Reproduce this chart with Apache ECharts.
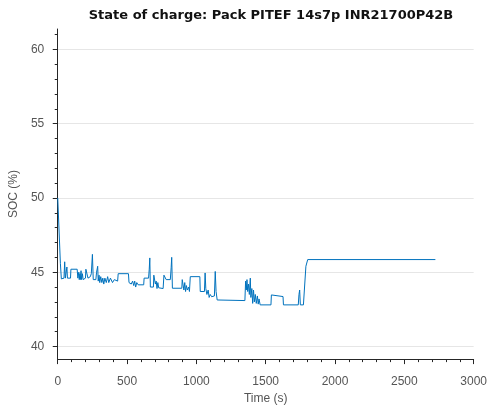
<!DOCTYPE html>
<html>
<head>
<meta charset="utf-8">
<script src="https://cdn.jsdelivr.net/npm/echarts@6/dist/echarts.min.js"></script>
<style>
  html, body { margin: 0; padding: 0; background: #fff; }
  #chart { width: 490px; height: 410px; }
</style>
</head>
<body>
<div id="chart"></div>
<script>
// Pack SOC trace
const timeS = [
  0, 14, 19, 26, 45, 50, 55, 62, 66, 70, 92, 95, 140, 145, 152, 155, 160, 163, 168, 172,
  178, 183, 200, 203, 215, 218, 235, 242, 250, 256, 275, 280, 288, 292, 298, 303, 310, 318, 325, 332,
  340, 350, 360, 368, 380, 395, 408, 420, 432, 436, 510, 514, 530, 540, 548, 555, 562, 570, 580, 620,
  623, 655, 660, 664, 668, 690, 693, 700, 704, 710, 716, 722, 728, 760, 766, 778, 782, 812, 818, 822,
  827, 895, 898, 905, 910, 916, 922, 928, 935, 944, 950, 956, 1025, 1028, 1058, 1063, 1068, 1076, 1085, 1092,
  1100, 1110, 1130, 1136, 1142, 1150, 1160, 1350, 1355, 1360, 1365, 1370, 1376, 1382, 1389, 1393, 1400, 1406, 1412, 1418,
  1425, 1432, 1440, 1446, 1452, 1460, 1538, 1541, 1625, 1628, 1735, 1740, 1745, 1750, 1772, 1790, 1803, 2724
];
const socPct = [
  50, 50, 45.6, 44.55, 44.6, 45.7, 44.6, 44.55, 45.35, 44.6, 44.6, 45.2, 45.2, 44.6, 45.0, 44.5, 44.9, 44.5, 45.1, 44.5,
  44.9, 44.5, 44.6, 45.2, 45.2, 44.6, 44.7, 44.9, 46.2, 44.5, 44.5, 45.0, 45.4, 44.4, 44.8, 44.3, 44.7, 44.3, 44.6, 44.2,
  44.6, 44.3, 44.7, 44.3, 44.6, 44.3, 44.5, 44.4, 44.4, 44.9, 44.9, 44.3, 44.2, 44.4, 44.1, 44.4, 44.0, 44.3, 44.15, 44.15,
  44.6, 44.6, 45.2, 45.96, 44.0, 44.0, 44.8, 44.8, 44.2, 44.4, 43.9, 44.3, 43.95, 43.9, 44.8, 44.8, 44.5, 44.5, 45.3, 46.0,
  43.92, 43.92, 44.5, 44.5, 43.8, 44.3, 43.7, 44.1, 43.8, 44.0, 43.7, 44.7, 44.7, 43.7, 43.7, 44.95, 43.9, 43.5, 43.8, 43.3,
  43.5, 43.35, 43.4, 45.05, 43.7, 43.13, 43.09, 43.09, 44.4, 43.8, 44.5, 43.7, 44.2, 43.5, 44.6, 43.3, 43.9, 42.9, 43.8, 43.0,
  43.5, 42.9, 43.4, 42.85, 43.2, 42.8, 42.8, 43.47, 43.36, 42.8, 42.8, 43.5, 43.8, 42.8, 42.8, 45.4, 45.85, 45.85
];

const xTicks = [0, 500, 1000, 1500, 2000, 2500, 3000];
const yTicks = [40, 45, 50, 55, 60];
const yMinorTicks = [40, 41, 42, 43, 44, 45, 46, 47, 48, 49, 50, 51, 52, 53, 54, 55, 56, 57, 58, 59, 60, 61];

const seriesData = timeS.map((t, i) => [t, socPct[i]]);

const font = 'Liberation Sans, Arial, Helvetica, sans-serif';
const axisColor = '#262626';
const labelColor = '#555';

const chart = echarts.init(document.getElementById('chart'), null, { renderer: 'canvas' });

chart.setOption({
  animation: false,
  backgroundColor: '#fff',
  title: {
    text: 'State of charge: Pack PITEF 14s7p INR21700P42B',
    left: 266,
    top: 4,
    textAlign: 'center',
    textStyle: { fontFamily: 'DejaVu Sans, sans-serif', fontSize: 13, fontWeight: 'bold', color: '#111' }
  },
  grid: { left: 55.5, right: 12, top: 29, bottom: 50.5, containLabel: false },
  xAxis: {
    type: 'value',
    min: 0,
    max: 3000,
    interval: 500,
    name: 'Time (s)',
    nameLocation: 'middle',
    nameGap: 33,
    nameTextStyle: { fontFamily: font, fontSize: 12, color: labelColor },
    axisLine: { show: true, lineStyle: { color: axisColor, width: 1 } },
    axisTick: { show: true, length: 5, lineStyle: { color: axisColor } },
    minorTick: { show: true, splitNumber: 5, length: 3, lineStyle: { color: axisColor } },
    axisLabel: {
      fontFamily: font, fontSize: 12, color: labelColor, margin: 17,
      customValues: xTicks,
      formatter: v => String(v)
    },
    splitLine: { show: false }
  },
  yAxis: [
    {
      type: 'value',
      min: 39.15,
      max: 61.37,
      name: 'SOC (%)',
      nameLocation: 'middle',
      nameGap: 29,
      nameTextStyle: { fontFamily: font, fontSize: 12, color: labelColor },
      axisLine: { show: true, lineStyle: { color: axisColor, width: 1 } },
      axisTick: { show: true, length: 5, customValues: yTicks, lineStyle: { color: axisColor } },
      axisLabel: { fontFamily: font, fontSize: 12, color: labelColor, margin: 13.5, customValues: yTicks },
      splitLine: { show: true, lineStyle: { color: '#e6e6e6', width: 1 } }
    },
    {
      // minor ticks only
      type: 'value',
      position: 'left',
      min: 39.15,
      max: 61.37,
      axisLine: { show: false },
      axisTick: { show: true, length: 3, customValues: yMinorTicks, lineStyle: { color: axisColor } },
      axisLabel: { show: false },
      splitLine: { show: false }
    }
  ],
  series: [
    {
      type: 'line',
      data: seriesData,
      showSymbol: false,
      symbol: 'none',
      lineStyle: { color: '#0072BD', width: 1 },
      z: 3
    }
  ]
});

window.addEventListener('resize', () => chart.resize());
</script>
</body>
</html>
